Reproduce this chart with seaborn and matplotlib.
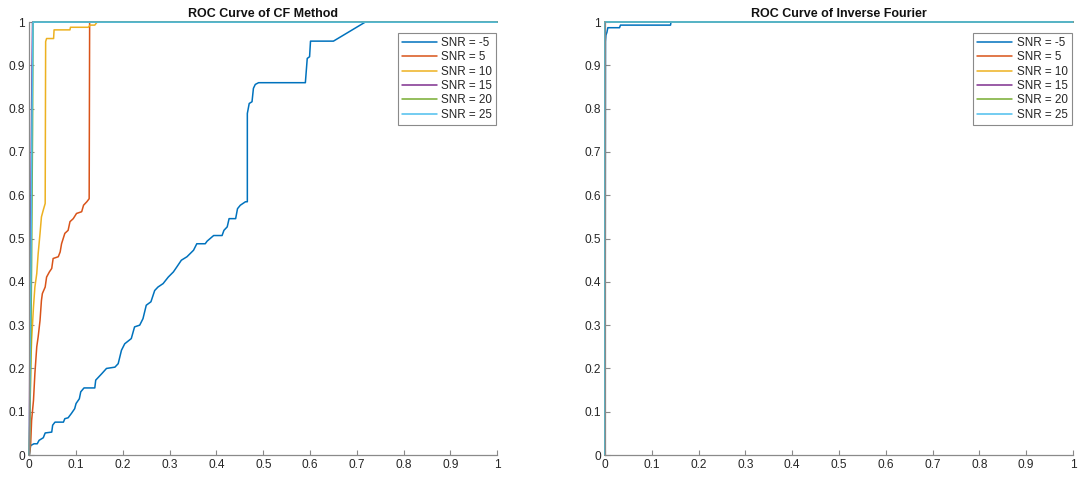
import matplotlib
matplotlib.use("Agg")
import matplotlib.pyplot as plt
import seaborn as sns
import pandas as pd

sns.set_theme(style="white")
plt.rcParams["font.family"] = ["Liberation Sans", "DejaVu Sans"]

snr_labels = ["SNR = -5", "SNR = 5", "SNR = 10", "SNR = 15", "SNR = 20", "SNR = 25"]
snr_colors = ["#0072BD", "#D95319", "#EDB120", "#7E2F8E", "#77AC30", "#4DBEEE"]
tick_values = [0, 0.1, 0.2, 0.3, 0.4, 0.5, 0.6, 0.7, 0.8, 0.9, 1]
tick_labels = ["0", "0.1", "0.2", "0.3", "0.4", "0.5", "0.6", "0.7", "0.8", "0.9", "1"]

# ROC curves, CF method
cf_fpr_m5 = [0, 0.003, 0.01, 0.017, 0.021, 0.03, 0.034, 0.048, 0.05, 0.055, 0.073, 0.076,
             0.083, 0.09, 0.097, 0.1, 0.107, 0.11, 0.117, 0.14, 0.142, 0.155, 0.165, 0.183,
             0.19, 0.197, 0.204, 0.218, 0.225, 0.236, 0.243, 0.25, 0.26, 0.268, 0.275, 0.286,
             0.297, 0.308, 0.315, 0.325, 0.337, 0.351, 0.358, 0.376, 0.38, 0.394, 0.412,
             0.416, 0.423, 0.427, 0.441, 0.445, 0.451, 0.462, 0.466, 0.466, 0.47, 0.476,
             0.479, 0.483, 0.49, 0.59, 0.594, 0.599, 0.601, 0.65, 0.718, 1.0]
cf_tpr_m5 = [0, 0.022, 0.026, 0.026, 0.034, 0.04, 0.051, 0.053, 0.069, 0.076, 0.076, 0.084,
             0.086, 0.096, 0.107, 0.119, 0.13, 0.146, 0.155, 0.155, 0.173, 0.188, 0.2, 0.203,
             0.211, 0.242, 0.257, 0.269, 0.296, 0.3, 0.315, 0.346, 0.354, 0.38, 0.388, 0.396,
             0.411, 0.423, 0.434, 0.45, 0.458, 0.473, 0.488, 0.488, 0.494, 0.507, 0.507,
             0.519, 0.527, 0.546, 0.546, 0.569, 0.577, 0.585, 0.585, 0.789, 0.812, 0.816,
             0.847, 0.856, 0.86, 0.86, 0.916, 0.92, 0.956, 0.956, 1.0, 1.0]

cf_fpr_5 = [0, 0.003, 0.005, 0.009, 0.012, 0.016, 0.019, 0.023, 0.026, 0.028, 0.034, 0.037,
            0.043, 0.048, 0.051, 0.062, 0.066, 0.069, 0.076, 0.083, 0.087, 0.094, 0.101,
            0.112, 0.116, 0.123, 0.128, 0.129, 1.0]
cf_tpr_5 = [0, 0.026, 0.08, 0.126, 0.188, 0.25, 0.273, 0.311, 0.357, 0.373, 0.388, 0.411,
            0.423, 0.431, 0.454, 0.458, 0.469, 0.488, 0.512, 0.519, 0.539, 0.546, 0.558,
            0.562, 0.577, 0.585, 0.592, 1.0, 1.0]

cf_fpr_10 = [0, 0.002, 0.003, 0.005, 0.009, 0.012, 0.016, 0.019, 0.023, 0.026, 0.03, 0.034,
             0.035, 0.037, 0.052, 0.053, 0.087, 0.088, 0.126, 0.13, 0.14, 0.145, 1.0]
cf_tpr_10 = [0, 0.126, 0.203, 0.265, 0.342, 0.388, 0.419, 0.465, 0.512, 0.55, 0.566, 0.581,
             0.955, 0.962, 0.962, 0.982, 0.982, 0.988, 0.988, 0.993, 0.993, 1.0, 1.0]

cf_fpr_15 = [0, 0.002, 0.005, 0.007, 1.0]
cf_tpr_15 = [0, 0.4, 0.8, 1.0, 1.0]

cf_fpr_20 = [0, 0.003, 0.005, 0.007, 0.008, 1.0]
cf_tpr_20 = [0, 0.2, 0.45, 0.75, 1.0, 1.0]

cf_fpr_25 = [0, 0.002, 0.004, 0.006, 0.008, 1.0]
cf_tpr_25 = [0, 0.25, 0.5, 0.8, 1.0, 1.0]

# ROC curves, inverse Fourier
if_fpr_m5 = [0, 0.001, 0.002, 0.004, 0.006, 0.031, 0.033, 0.14, 0.141, 1.0]
if_tpr_m5 = [0, 0.955, 0.97, 0.976, 0.987, 0.987, 0.993, 0.993, 1.0, 1.0]
if_fpr_rest = [0, 0, 1.0]
if_tpr_rest = [0, 1.0, 1.0]

cf_curves = [(cf_fpr_m5, cf_tpr_m5), (cf_fpr_5, cf_tpr_5), (cf_fpr_10, cf_tpr_10),
             (cf_fpr_15, cf_tpr_15), (cf_fpr_20, cf_tpr_20), (cf_fpr_25, cf_tpr_25)]
if_curves = [(if_fpr_m5, if_tpr_m5)] + [(if_fpr_rest, if_tpr_rest)] * 5


def long_frame(curves):
    rows = []
    for label, (fpr, tpr) in zip(snr_labels, curves):
        for order, (x, y) in enumerate(zip(fpr, tpr)):
            rows.append({"fpr": x, "tpr": y, "snr": label, "order": order})
    return pd.DataFrame(rows)


fig = plt.figure(figsize=(10.8, 4.8), dpi=100)
ax_left = fig.add_axes([0.0271, 0.052, 0.4333, 0.902])
ax_right = fig.add_axes([0.5602, 0.052, 0.4333, 0.902])

panels = [(ax_left, cf_curves, "ROC Curve of CF Method"),
          (ax_right, if_curves, "ROC Curve of Inverse Fourier")]

for ax, curves, title in panels:
    df = long_frame(curves)
    sns.lineplot(data=df, x="fpr", y="tpr", hue="snr", hue_order=snr_labels,
                 palette=snr_colors, sort=False, estimator=None, units="snr",
                 linewidth=1.1, ax=ax, legend=False)
    for line in ax.get_lines():
        line.set_clip_on(False)
    ax.set_xlim(0, 1)
    ax.set_ylim(0, 1)
    ax.set_xticks(tick_values)
    ax.set_xticklabels(tick_labels)
    ax.set_yticks(tick_values)
    ax.set_yticklabels(tick_labels)
    ax.set_xlabel("")
    ax.set_ylabel("")
    ax.set_title(title, fontsize=9, fontweight="bold", color="#111111", pad=4)
    for side in ("top", "right"):
        ax.spines[side].set_visible(False)
    for side in ("left", "bottom"):
        ax.spines[side].set_color("#8a8a8a")
        ax.spines[side].set_linewidth(0.9)
    ax.tick_params(direction="in", length=3.5, width=0.8, color="#8a8a8a",
                   labelsize=8.6, labelcolor="#262626", pad=3,
                   bottom=True, left=True)
    handles = ax.get_lines()[:len(snr_labels)]
    leg = ax.legend(handles, snr_labels, loc="upper right",
                    bbox_to_anchor=(0.998, 0.975), fontsize=8.4,
                    frameon=True, fancybox=False, framealpha=1,
                    edgecolor="#8a8a8a", borderpad=0.35, labelspacing=0.2,
                    handlelength=3.0, handletextpad=0.4, borderaxespad=0)
    leg.get_frame().set_linewidth(0.8)

fig.savefig("out.png", dpi=100, facecolor="white")
